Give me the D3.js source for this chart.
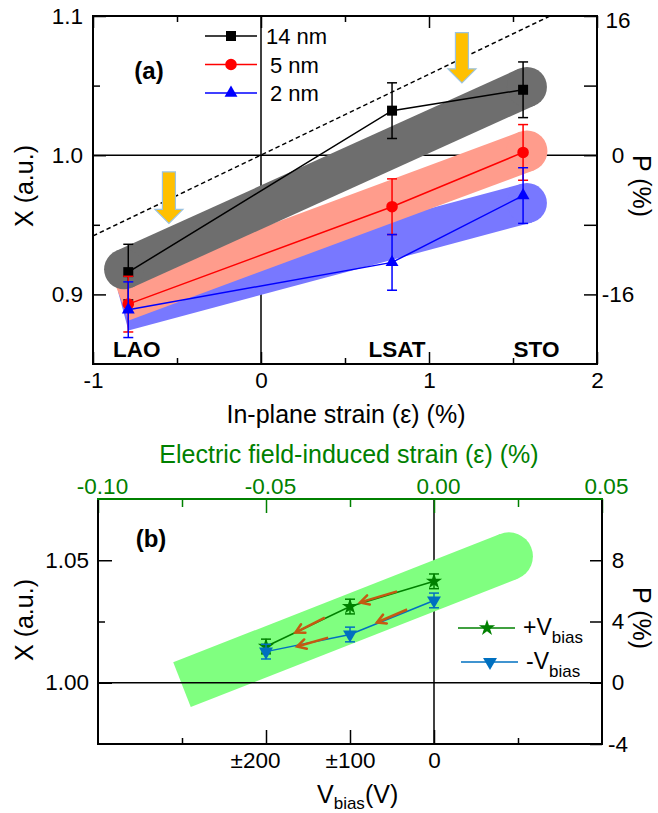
<!DOCTYPE html>
<html>
<head>
<meta charset="utf-8">
<script src="https://cdn.jsdelivr.net/npm/d3@7"></script>
<style>
  body { margin: 0; background: #fff; }
  svg { display: block; font-family: "Liberation Sans", Arial, sans-serif; }
</style>
</head>
<body>
<svg id="chart" width="658" height="813"></svg>
<script>
/* ---------------- data: panel (a) ---------------- */
const substrates   = ['LAO', 'LSAT', 'STO'];
const strainA      = [-0.79, 0.78, 1.56];
const labelStrain  = [-0.74, 0.81, 1.64];
const x14          = [0.916, 1.032, 1.047];
const x5           = [0.893, 0.963, 1.002];
const x2           = [0.889, 0.923, 0.971];
const err14        = [0.02, 0.02, 0.02];
const err5         = [0.02, 0.02, 0.02];
const err2         = [0.02, 0.02, 0.02];
const seriesNamesA = ['14 nm', '5 nm', '2 nm'];

// guide bands [strain, X] start/end
const bandGrey = [[-0.815, 0.918], [1.583, 1.049]];
const bandRed  = [[-0.83, 0.895], [1.583, 1.003]];
const bandBlue = [[-0.82, 0.888], [1.583, 0.9656]];
const dashedGuide = [[-1, 0.942], [1.72, 1.1]];
// yellow arrows: strain, X start, X tip
const yellowArrows = [[1.196, 1.088, 1.052], [-0.548, 0.988, 0.951]];

const xTicksA = [-1, 0, 1, 2];
const xMinorA = [-0.5, 0.5, 1.5];
const yTicksA = [0.9, 1.0, 1.1];
const yMinorA = [0.95, 1.05];
const pTicksA = [16, 8, 0, -8, -16];
const pLabelsA = [16, 0, -16];

/* ---------------- data: panel (b) ---------------- */
const vbias   = [0, 100, 200];
const xPlus   = [1.0414, 1.0311, 1.0148];
const xMinus  = [1.0336, 1.0197, 1.0127];
const errPlus = [0.003, 0.003, 0.003];
const errMinus= [0.003, 0.003, 0.003];
// green band in [field strain, X]
const bandGreen = [[-0.075, 0.9992], [0.0223, 1.0516]];
// brown arrows: [V tail, X tail, V head, X head]
const biasArrows = [
  [44, 1.0373, 88, 1.0328],
  [130, 1.0266, 165, 1.0205],
  [32, 1.0299, 68, 1.0246],
  [126, 1.0184, 163, 1.0148]
];
const vTicks   = [200, 100, 0];
const vLabels  = ['±200', '±100', '0'];
const vMinor   = [300, -100];
const sTicks   = [-0.10, -0.05, 0.00, 0.05];
const sMinor   = [-0.075, -0.025, 0.025];
const yTicksB  = [1.00, 1.05];
const yMinorB  = [1.025];
const pTicksB  = [8, 4, 0, -4];

/* ---------------- setup ---------------- */
const svg = d3.select('#chart');
const FONT = '"Liberation Sans", Arial, sans-serif';
const GREEN = '#008000';
const TICK_FS = 22.5, TITLE_FS = 25;

function styleAxis(g, color) {
  g.select('.domain').remove();
  g.selectAll('line').attr('stroke', color || '#000').attr('stroke-width', 1.5);
  g.selectAll('text').attr('font-size', TICK_FS).attr('font-family', FONT).attr('fill', color || '#000');
}

// band: butt start + round end (or round both)
function drawBand(g, xs, ys, pts, width, color, roundStart) {
  const line = d3.line().x(d => xs(d[0])).y(d => ys(d[1]));
  g.append('path').attr('d', line(pts)).attr('stroke', color).attr('stroke-width', width)
    .attr('fill', 'none').attr('stroke-linecap', 'butt');
  g.append('circle').attr('cx', xs(pts[1][0])).attr('cy', ys(pts[1][1])).attr('r', width / 2).attr('fill', color);
  if (roundStart)
    g.append('circle').attr('cx', xs(pts[0][0])).attr('cy', ys(pts[0][1])).attr('r', width / 2).attr('fill', color);
}

function errorBar(g, x, y0, y1, color) {
  g.append('line').attr('x1', x).attr('x2', x).attr('y1', y0).attr('y2', y1)
    .attr('stroke', color).attr('stroke-width', 1.5);
  [y0, y1].forEach(y => g.append('line').attr('x1', x - 5).attr('x2', x + 5)
    .attr('y1', y).attr('y2', y).attr('stroke', color).attr('stroke-width', 1.5));
}

/* ================= panel (a) ================= */
const A = {left: 93, right: 597, top: 16, bottom: 364};
const xA = d3.scaleLinear().domain([-1, 2]).range([A.left, A.right]);
const yA = d3.scaleLinear().domain([0.85, 1.1]).range([A.bottom, A.top]);
const pA = d3.scaleLinear().domain([-24, 16]).range([A.bottom, A.top]);
const gA = svg.append('g');

// reference lines
gA.append('line').attr('x1', A.left).attr('x2', A.right).attr('y1', yA(1)).attr('y2', yA(1))
  .attr('stroke', '#000').attr('stroke-width', 1.5);
gA.append('line').attr('x1', xA(0)).attr('x2', xA(0)).attr('y1', A.top).attr('y2', A.bottom)
  .attr('stroke', '#000').attr('stroke-width', 1.5);

// bands
drawBand(gA, xA, yA, bandBlue, 40, '#7878ff', false);
drawBand(gA, xA, yA, bandRed, 41, '#ff9c8c', false);
drawBand(gA, xA, yA, bandGrey, 40, '#6e6e6e', true);

// dashed guide
gA.append('path').attr('d', d3.line().x(d => xA(d[0])).y(d => yA(d[1]))(dashedGuide))
  .attr('stroke', '#000').attr('stroke-width', 1.5).attr('stroke-dasharray', '4.5,3').attr('fill', 'none');

// yellow arrows
yellowArrows.forEach(([s, y0, y1]) => {
  const cx = xA(s), top = yA(y0), tip = yA(y1), hs = tip - 14;
  const pts = [[cx - 6.5, top], [cx + 6.5, top], [cx + 6.5, hs], [cx + 14, hs], [cx, tip],
               [cx - 14, hs], [cx - 6.5, hs]];
  gA.append('polygon').attr('points', pts.map(p => p.join(',')).join(' '))
    .attr('fill', '#ffc000').attr('stroke', '#9cc3e0').attr('stroke-width', 1.2);
});

// series
const seriesA = [
  {vals: x14, err: err14, color: '#000', sym: d3.symbolSquare, size: 100},
  {vals: x5,  err: err5,  color: '#ff0000', sym: d3.symbolCircle, size: 105},
  {vals: x2,  err: err2,  color: '#0000ff', sym: d3.symbolTriangle, size: 72}
];
seriesA.forEach(s => {
  const pts = strainA.map((e, i) => [e, s.vals[i], s.err[i]]);
  gA.append('path').attr('d', d3.line().x(d => xA(d[0])).y(d => yA(d[1]))(pts))
    .attr('stroke', s.color).attr('stroke-width', 1.5).attr('fill', 'none');
  pts.forEach(d => {
    const x = xA(d[0]);
    errorBar(gA, x, yA(d[1] - d[2]), yA(d[1] + d[2]), s.color);
    gA.append('path').attr('d', d3.symbol(s.sym, s.size)()).attr('fill', s.color)
      .attr('transform', `translate(${x},${yA(d[1])})`);
  });
});

// substrate labels
substrates.forEach((t, i) => {
  gA.append('text').attr('x', xA(labelStrain[i])).attr('y', A.bottom - 7).attr('text-anchor', 'middle')
    .attr('font-size', 22.5).attr('font-weight', 'bold').text(t);
});
gA.append('text').attr('x', 149).attr('y', 79).attr('text-anchor', 'middle')
  .attr('font-size', 24).attr('font-weight', 'bold').text('(a)');

// legend
seriesA.forEach((s, i) => {
  const y = 36 + i * 28.5;
  gA.append('line').attr('x1', 205).attr('x2', 257).attr('y1', y).attr('y2', y)
    .attr('stroke', s.color).attr('stroke-width', 1.5);
  gA.append('path').attr('d', d3.symbol(s.sym, s.size)()).attr('fill', s.color)
    .attr('transform', `translate(231,${y})`);
  gA.append('text').attr('x', i === 0 ? 266 : 270).attr('y', y + 8).attr('font-size', 22).text(seriesNamesA[i]);
});

// axes
gA.append('g').attr('transform', `translate(0,${A.bottom})`)
  .call(d3.axisBottom(xA).tickValues(xTicksA).tickSize(-12).tickPadding(8).tickFormat(d => String(d)))
  .call(g => styleAxis(g));
gA.append('g').attr('transform', `translate(0,${A.bottom})`)
  .call(d3.axisBottom(xA).tickValues(xMinorA).tickSize(-6).tickFormat(''))
  .call(g => styleAxis(g));
gA.append('g').attr('transform', `translate(0,${A.top})`)
  .call(d3.axisTop(xA).tickValues(xTicksA).tickSize(-12).tickFormat(''))
  .call(g => styleAxis(g));
gA.append('g').attr('transform', `translate(0,${A.top})`)
  .call(d3.axisTop(xA).tickValues(xMinorA).tickSize(-6).tickFormat(''))
  .call(g => styleAxis(g));
gA.append('g').attr('transform', `translate(${A.left},0)`)
  .call(d3.axisLeft(yA).tickValues(yTicksA).tickSize(-13).tickPadding(10).tickFormat(d3.format('.1f')))
  .call(g => styleAxis(g));
gA.append('g').attr('transform', `translate(${A.left},0)`)
  .call(d3.axisLeft(yA).tickValues(yMinorA).tickSize(-7).tickFormat(''))
  .call(g => styleAxis(g));
gA.append('g').attr('transform', `translate(${A.right},0)`)
  .call(d3.axisRight(pA).tickValues(pTicksA).tickSize(-13).tickPadding(21)
    .tickFormat(d => pLabelsA.includes(d) ? String(d) : ''))
  .call(g => styleAxis(g))
  .call(g => g.selectAll('text').attr('text-anchor', 'middle').attr('dy', d => d === 16 ? '0.5em' : '0.32em'));

gA.append('rect').attr('x', A.left).attr('y', A.top).attr('width', A.right - A.left).attr('height', A.bottom - A.top)
  .attr('fill', 'none').attr('stroke', '#000').attr('stroke-width', 2);

// titles
gA.append('text').attr('x', 346).attr('y', 423).attr('text-anchor', 'middle').attr('font-size', TITLE_FS)
  .text('In-plane strain (ε) (%)');
gA.append('text').attr('transform', 'translate(33,186) rotate(-90)').attr('text-anchor', 'middle')
  .attr('font-size', TITLE_FS).text('X (a.u.)');
gA.append('text').attr('transform', 'translate(633,186) rotate(90)').attr('text-anchor', 'middle')
  .attr('font-size', TITLE_FS).text('P (%)');

/* ================= panel (b) ================= */
const B = {left: 98, right: 602, top: 499, bottom: 744};
const xV = d3.scaleLinear().domain([400, -200]).range([B.left, B.right]);
const xS = d3.scaleLinear().domain([-0.10, 0.05]).range([B.left, B.right]);
const yB = d3.scaleLinear().domain([0.975, 1.075]).range([B.bottom, B.top]);
const pB = d3.scaleLinear().domain([-4, 12]).range([B.bottom, B.top]);
const gB = svg.append('g');

gB.append('line').attr('x1', xV(0)).attr('x2', xV(0)).attr('y1', B.top).attr('y2', B.bottom)
  .attr('stroke', '#000').attr('stroke-width', 1.5);
drawBand(gB, xS, yB, bandGreen, 48, '#80ff80', false);
gB.append('line').attr('x1', B.left).attr('x2', B.right).attr('y1', yB(1)).attr('y2', yB(1))
  .attr('stroke', '#000').attr('stroke-width', 1.5);

const seriesB = [
  {vals: xPlus, err: errPlus, color: GREEN, sym: d3.symbolStar, size: 82, rot: 0, name: '+V'},
  {vals: xMinus, err: errMinus, color: '#0070c0', sym: d3.symbolTriangle, size: 84, rot: 180, name: '-V'}
];
seriesB.forEach(s => {
  const pts = vbias.map((v, i) => [v, s.vals[i], s.err[i]]);
  gB.append('path').attr('d', d3.line().x(d => xV(d[0])).y(d => yB(d[1]))(pts))
    .attr('stroke', s.color).attr('stroke-width', 1.5).attr('fill', 'none');
  pts.forEach(d => {
    const x = xV(d[0]);
    errorBar(gB, x, yB(d[1] - d[2]), yB(d[1] + d[2]), s.color);
    gB.append('path').attr('d', d3.symbol(s.sym, s.size)()).attr('fill', s.color)
      .attr('transform', `translate(${x},${yB(d[1])}) rotate(${s.rot})`);
  });
});

// brown arrows
biasArrows.forEach(([v0, y0, v1, y1]) => {
  const x0 = xV(v0), yy0 = yB(y0), x1 = xV(v1), yy1 = yB(y1);
  const ang = Math.atan2(yy1 - yy0, x1 - x0), L = 10, a = 0.5;
  gB.append('line').attr('x1', x0).attr('y1', yy0).attr('x2', x1).attr('y2', yy1)
    .attr('stroke', '#c55a11').attr('stroke-width', 2.5);
  const p1 = [x1 - L * Math.cos(ang - a), yy1 - L * Math.sin(ang - a)];
  const p2 = [x1 - L * Math.cos(ang + a), yy1 - L * Math.sin(ang + a)];
  gB.append('path').attr('d', `M${p1}L${x1},${yy1}L${p2}`).attr('fill', 'none')
    .attr('stroke', '#c55a11').attr('stroke-width', 2.5).attr('stroke-linecap', 'round');
});

gB.append('text').attr('x', 151).attr('y', 547).attr('text-anchor', 'middle')
  .attr('font-size', 24).attr('font-weight', 'bold').text('(b)');

// legend (b)
seriesB.forEach((s, i) => {
  const y = 628 + i * 34, x0 = 458 + i * 3;
  gB.append('line').attr('x1', x0).attr('x2', x0 + 57).attr('y1', y).attr('y2', y)
    .attr('stroke', s.color).attr('stroke-width', 1.5);
  gB.append('path').attr('d', d3.symbol(s.sym, s.size)()).attr('fill', s.color)
    .attr('transform', `translate(${x0 + 29},${y}) rotate(${s.rot})`);
  const t = gB.append('text').attr('x', x0 + 65).attr('y', y + 7).attr('font-size', 23);
  t.append('tspan').text(s.name);
  t.append('tspan').attr('font-size', 17).attr('dy', 8).text('bias');
});

// axes (b)
gB.append('g').attr('transform', `translate(0,${B.bottom})`)
  .call(d3.axisBottom(xV).tickValues(vTicks).tickSize(-14).tickPadding(8).tickFormat((d, i) => vLabels[i]))
  .call(g => styleAxis(g))
  .call(g => g.selectAll('text').filter(d => d === 200).attr('dx', -11));
gB.append('g').attr('transform', `translate(0,${B.bottom})`)
  .call(d3.axisBottom(xV).tickValues(vMinor).tickSize(-6).tickFormat(''))
  .call(g => styleAxis(g));
gB.append('g').attr('transform', `translate(0,${B.top})`)
  .call(d3.axisTop(xS).tickValues(sTicks).tickSize(-14).tickPadding(5).tickFormat(d3.format('.2f')))
  .call(g => styleAxis(g, GREEN))
  .call(g => g.selectAll('text').attr('dx', 4).text(d => d3.format('.2f')(d).replace('−', '-')));
gB.append('g').attr('transform', `translate(0,${B.top})`)
  .call(d3.axisTop(xS).tickValues(sMinor).tickSize(-8).tickFormat(''))
  .call(g => styleAxis(g, GREEN));
gB.append('g').attr('transform', `translate(${B.left},0)`)
  .call(d3.axisLeft(yB).tickValues(yTicksB).tickSize(-14).tickPadding(9).tickFormat(d3.format('.2f')))
  .call(g => styleAxis(g));
gB.append('g').attr('transform', `translate(${B.left},0)`)
  .call(d3.axisLeft(yB).tickValues(yMinorB).tickSize(-7).tickFormat(''))
  .call(g => styleAxis(g));
gB.append('g').attr('transform', `translate(${B.right},0)`)
  .call(d3.axisRight(pB).tickValues(pTicksB).tickSize(-12).tickPadding(16).tickFormat(d => String(d)))
  .call(g => styleAxis(g))
  .call(g => g.selectAll('text').attr('text-anchor', 'middle'));

// frame (b)
[[B.left, B.bottom, B.right, B.bottom], [B.left, B.top, B.left, B.bottom], [B.right, B.top, B.right, B.bottom]]
  .forEach(([x1, y1, x2, y2]) => gB.append('line').attr('x1', x1).attr('y1', y1).attr('x2', x2).attr('y2', y2)
    .attr('stroke', '#000').attr('stroke-width', 2).attr('stroke-linecap', 'square'));
gB.append('line').attr('x1', B.left - 1).attr('x2', B.right + 1).attr('y1', B.top).attr('y2', B.top)
  .attr('stroke', GREEN).attr('stroke-width', 2);

// titles (b)
gB.append('text').attr('x', 349).attr('y', 463).attr('text-anchor', 'middle').attr('font-size', TITLE_FS)
  .attr('fill', GREEN).text('Electric field-induced strain (ε) (%)');
const vt = gB.append('text').attr('x', 317).attr('y', 803).attr('font-size', TITLE_FS);
vt.append('tspan').text('V');
vt.append('tspan').attr('font-size', 17).attr('dy', 6).text('bias');
vt.append('tspan').attr('dy', -6).text('(V)');
gB.append('text').attr('transform', 'translate(33,620) rotate(-90)').attr('text-anchor', 'middle')
  .attr('font-size', TITLE_FS).text('X (a.u.)');
gB.append('text').attr('transform', 'translate(633,618) rotate(90)').attr('text-anchor', 'middle')
  .attr('font-size', TITLE_FS).text('P (%)');
</script>
</body>
</html>
